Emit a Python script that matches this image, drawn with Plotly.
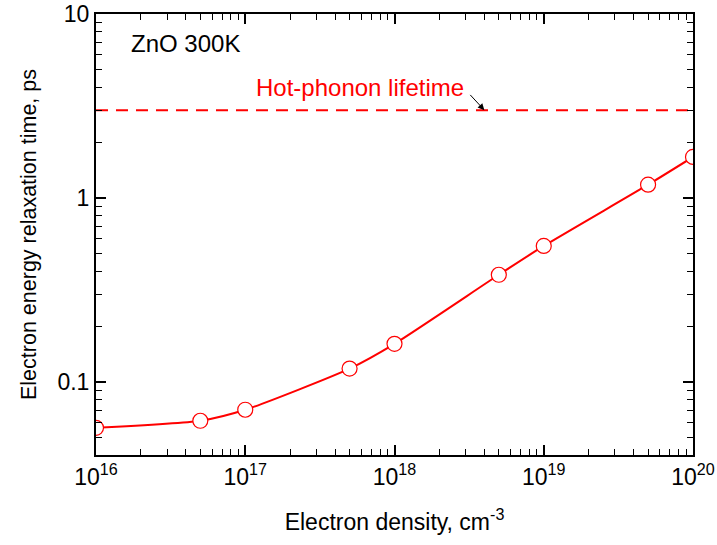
import numpy as np
import plotly.graph_objects as go

density = [1e16, 5e16, 1e17, 5e17, 1e18, 5e18, 1e19, 5e19, 1e20]
tau_ps = [0.0562, 0.0614, 0.0705, 0.118, 0.161, 0.382, 0.548, 1.18, 1.67]
hot_phonon_lifetime = 3.0
x_tickvals = [1e16, 1e17, 1e18, 1e19, 1e20]
x_ticktext = ["10<sup>16</sup>", "10<sup>17</sup>", "10<sup>18</sup>", "10<sup>19</sup>", "10<sup>20</sup>"]
y_tickvals = [0.1, 1, 10]
y_ticktext = ["0.1", "1", "10"]

RED = "#ff0000"
FONT = "Liberation Sans, Arial, sans-serif"
fig = go.Figure()
fig.add_trace(go.Scatter(
    x=[1e16, 1e20], y=[hot_phonon_lifetime] * 2, mode="lines",
    line=dict(color=RED, width=2, dash="12px,8px"), showlegend=False, hoverinfo="skip"))
fig.add_trace(go.Scatter(
    x=density, y=tau_ps, mode="lines+markers",
    line=dict(color=RED, width=2, shape="spline", smoothing=0.6),
    marker=dict(symbol="circle", size=15, color="white", line=dict(color=RED, width=1.2)),
    showlegend=False, cliponaxis=True))

fig.add_annotation(x=np.log10(4.0e18), y=np.log10(hot_phonon_lifetime), xref="x", yref="y",
                   ax=np.log10(3.15e18), ay=np.log10(3.7), axref="x", ayref="y",
                   text="", showarrow=True, arrowhead=2, arrowsize=1.3, arrowwidth=1, arrowcolor="black")
fig.add_annotation(x=np.log10(5.88e17), y=np.log10(4.0), xref="x", yref="y",
                   text="Hot-phonon lifetime", showarrow=False,
                   font=dict(color=RED, size=24, family=FONT))
fig.add_annotation(x=np.log10(1.66e16), y=np.log10(6.95), xref="x", yref="y",
                   text="ZnO 300K", showarrow=False, xanchor="left",
                   font=dict(color="black", size=24, family=FONT))

axis_common = dict(
    type="log", showgrid=False, zeroline=False, showline=True, linecolor="black", linewidth=2,
    ticks="inside", ticklen=10, tickwidth=1.5, tickcolor="black", mirror="allticks",
    minor=dict(ticks="inside", ticklen=6, tickwidth=1.2, tickcolor="black", dtick="D1", showgrid=False),
    tickfont=dict(size=23, color="black", family=FONT), automargin=False,
)
fig.update_xaxes(**axis_common, range=[16, 20], tickmode="array", tickvals=x_tickvals, ticktext=x_ticktext,
                 title=dict(text="Electron density, cm<sup>-3</sup>", font=dict(size=23, color="black", family=FONT), standoff=25))
fig.update_yaxes(**axis_common, range=[np.log10(0.04), 1], tickmode="array", tickvals=y_tickvals, ticktext=y_ticktext,
                 title=dict(text="Electron energy relaxation time, ps",
                            font=dict(size=21.5, color="black", family="Liberation Sans Narrow, Liberation Sans, Arial, sans-serif"), standoff=15))
fig.update_layout(
    width=717, height=545, margin=dict(l=96, r=24, t=14, b=90),
    paper_bgcolor="white", plot_bgcolor="white",
    font=dict(family=FONT),
)
fig.write_html("out.html")
